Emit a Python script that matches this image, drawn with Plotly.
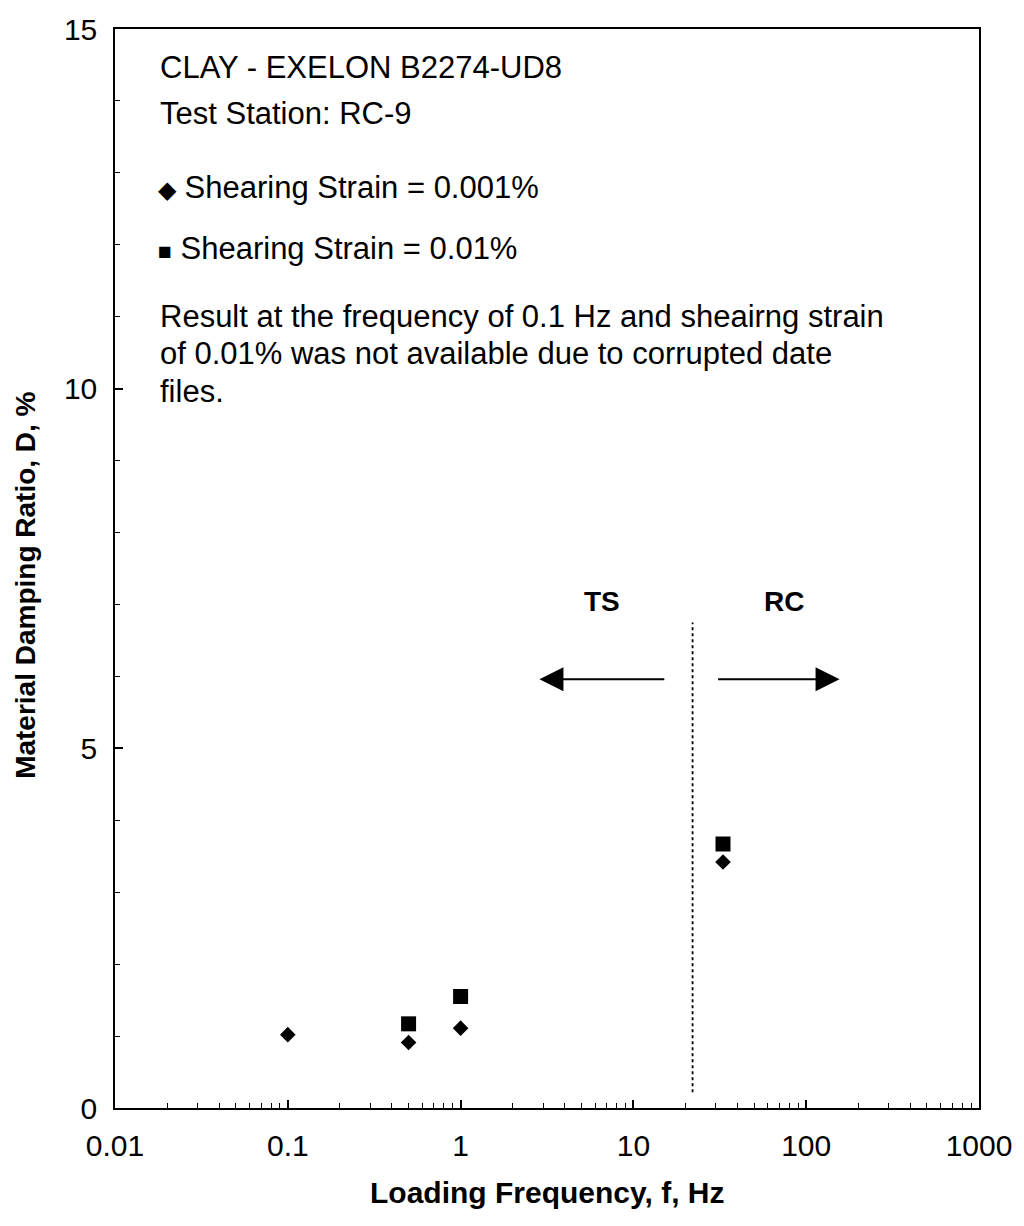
import numpy as np
import plotly.graph_objects as go

# Measured damping ratios (%) vs loading frequency (Hz)
freq_strain_001 = [0.1, 0.5, 1.0, 33.0]
damping_strain_001 = [1.02, 0.91, 1.11, 3.42]

freq_strain_01 = [0.5, 1.0, 33.0]
damping_strain_01 = [1.17, 1.55, 3.67]

# Boundary between torsional-shear (TS) and resonant-column (RC) testing
divider_freq = [22.0, 22.0]
divider_damping = [0.22, 6.75]

x_tick_vals = [0.01, 0.1, 1, 10, 100, 1000]
x_tick_text = ["0.01", "0.1", "1", "10", "100", "1000"]
y_tick_vals = [0, 5, 10, 15]
y_tick_text = ["0", "5", "10", "15"]

FONT = "Arial, 'Liberation Sans', sans-serif"
BLACK = "#000000"

fig = go.Figure()

fig.add_trace(go.Scatter(
    x=divider_freq, y=divider_damping, mode="lines",
    line=dict(color=BLACK, width=1.8, dash="dot"),
    showlegend=False, hoverinfo="skip",
))
fig.add_trace(go.Scatter(
    x=freq_strain_001, y=damping_strain_001, mode="markers",
    name="Shearing Strain = 0.001%",
    marker=dict(symbol="diamond", size=12, color=BLACK),
    showlegend=False,
))
fig.add_trace(go.Scatter(
    x=freq_strain_01, y=damping_strain_01, mode="markers",
    name="Shearing Strain = 0.01%",
    marker=dict(symbol="square", size=15, color=BLACK),
    showlegend=False,
))

# minor tick positions: 2..9 within each decade
minor_x = [m * 10.0 ** d for d in range(-2, 3) for m in range(2, 10)]

fig.update_xaxes(
    type="log", range=[-2, 3],
    tickvals=x_tick_vals, ticktext=x_tick_text,
    ticks="inside", ticklen=8, tickwidth=1.5, tickcolor=BLACK,
    minor=dict(tickvals=minor_x, ticks="inside", ticklen=5, tickwidth=1, tickcolor=BLACK, showgrid=False),
    showline=True, linecolor=BLACK, linewidth=1.5, mirror=True,
    showgrid=False, zeroline=False,
    tickfont=dict(family=FONT, size=30, color=BLACK),
    ticklabelstandoff=10,
)
fig.update_yaxes(
    range=[0, 15],
    tickvals=y_tick_vals, ticktext=y_tick_text,
    ticks="inside", ticklen=8, tickwidth=1.5, tickcolor=BLACK,
    minor=dict(dtick=1, ticks="inside", ticklen=5, tickwidth=1, tickcolor=BLACK, showgrid=False),
    showline=True, linecolor=BLACK, linewidth=1.5, mirror=True,
    showgrid=False, zeroline=False,
    tickfont=dict(family=FONT, size=30, color=BLACK),
    ticklabelstandoff=10,
)

PLOT_TOP, PLOT_BOTTOM, PLOT_LEFT, PLOT_RIGHT = 21, 1108, 115, 984


def py(pixel_y):
    return (PLOT_BOTTOM - pixel_y) / (PLOT_BOTTOM - PLOT_TOP)


def px(pixel_x):
    return (pixel_x - PLOT_LEFT) / (PLOT_RIGHT - PLOT_LEFT)


annotations = []
text_left = px(156)
note_lines = [
    ("CLAY - EXELON B2274-UD8", 60),
    ("Test Station: RC-9", 106),
    ("<span style='font-size:24px'>◆</span> Shearing Strain = 0.001%", 181),
    ("<span style='font-size:23px'>■</span> Shearing Strain = 0.01%", 242),
    ("Result at the frequency of 0.1 Hz and sheairng strain", 311),
    ("of 0.01% was not available due to corrupted date", 348),
    ("files.", 386),
]
for i, (txt, ypix) in enumerate(note_lines):
    annotations.append(dict(
        xref="paper", yref="paper", x=text_left if i in (2, 3) else px(158), y=py(ypix),
        xanchor="left", yanchor="middle", text=txt, showarrow=False,
        font=dict(family=FONT, size=31, color=BLACK),
    ))

# Method labels and direction arrows
annotations += [
    dict(xref="x", yref="y", x=np.log10(6.6), y=7.04, text="<b>TS</b>",
         showarrow=False, font=dict(family=FONT, size=28, color=BLACK)),
    dict(xref="x", yref="y", x=np.log10(74.5), y=7.04, text="<b>RC</b>",
         showarrow=False, font=dict(family=FONT, size=28, color=BLACK)),
    dict(xref="x", yref="y", axref="x", ayref="y",
         x=np.log10(2.86), y=5.96, ax=np.log10(15.4), ay=5.96,
         text="", showarrow=True, arrowhead=2, arrowsize=2.4, arrowwidth=2,
         arrowcolor=BLACK, standoff=0, startstandoff=0),
    dict(xref="x", yref="y", axref="x", ayref="y",
         x=np.log10(156), y=5.96, ax=np.log10(30.3), ay=5.96,
         text="", showarrow=True, arrowhead=2, arrowsize=2.4, arrowwidth=2,
         arrowcolor=BLACK, standoff=0, startstandoff=0),
]

# Axis titles
annotations += [
    dict(xref="paper", yref="paper", x=0.5, y=0, yshift=-84,
         xanchor="center", yanchor="middle", showarrow=False,
         text="<b>Loading Frequency, f, Hz</b>",
         font=dict(family=FONT, size=30, color=BLACK)),
    dict(xref="paper", yref="paper", x=0, xshift=-(PLOT_LEFT - 26), y=py(582),
         xanchor="center", yanchor="middle", showarrow=False, textangle=-90,
         text="<b>Material Damping Ratio, D, %</b>",
         font=dict(family=FONT, size=28, color=BLACK)),
]

fig.update_layout(
    width=1024, height=1226,
    margin=dict(l=PLOT_LEFT, r=1024 - PLOT_RIGHT, t=PLOT_TOP, b=1226 - PLOT_BOTTOM, pad=0),
    paper_bgcolor="white", plot_bgcolor="white",
    annotations=annotations,
    showlegend=False,
)

fig.write_html("out.html")
